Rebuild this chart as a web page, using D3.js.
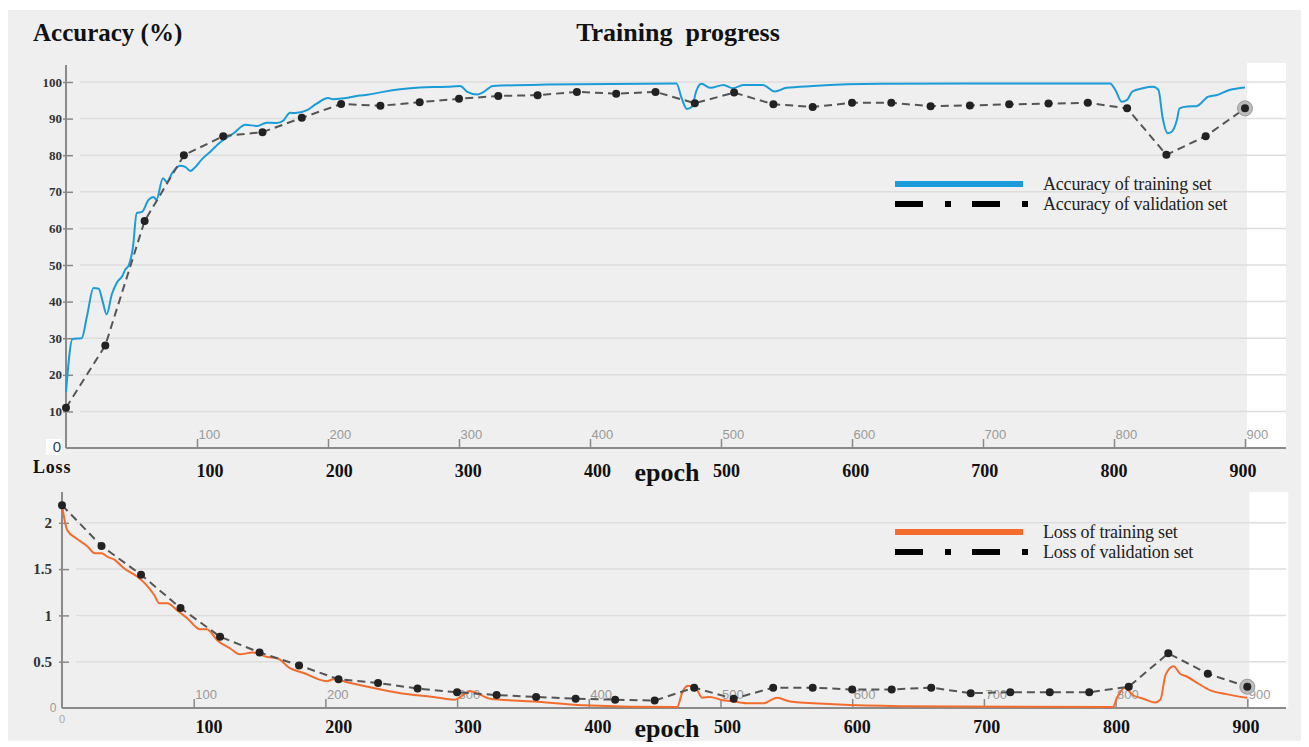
<!DOCTYPE html>
<html>
<head>
<meta charset="utf-8">
<script src="https://cdn.jsdelivr.net/npm/d3@7"></script>
<style>
  body { margin: 0; background: #fff; }
  text { font-family: "Liberation Serif", "Times New Roman", serif; }
</style>
</head>
<body>
<svg id="chart" width="1309" height="747"></svg>
<script>
// epochs where the tick labels sit
var epochTicks = [100, 200, 300, 400, 500, 600, 700, 800, 900];
var accTicks = [10, 20, 30, 40, 50, 60, 70, 80, 90, 100];
var lossTicks = [0.5, 1, 1.5, 2];

// validation is logged every 30 epochs
var valEpochs = [0, 30, 60, 90, 120, 150, 180, 210, 240, 270, 300, 330, 360, 390, 420,
                 450, 480, 510, 540, 570, 600, 630, 660, 690, 720, 750, 780, 810, 840, 870, 900];
var valAcc = [11, 28, 62, 80, 85.2, 86.3, 90.2, 94.0, 93.5, 94.5, 95.4, 96.2, 96.4, 97.3, 96.8,
              97.3, 94.2, 97.1, 93.9, 93.2, 94.3, 94.3, 93.4, 93.6, 93.9, 94.1, 94.3, 92.8, 80.1, 85.2, 92.8];
var valLoss = [2.19, 1.75, 1.44, 1.08, 0.77, 0.60, 0.46, 0.31, 0.27, 0.21, 0.17, 0.14, 0.12, 0.10, 0.09,
               0.08, 0.22, 0.10, 0.22, 0.22, 0.20, 0.20, 0.22, 0.16, 0.17, 0.17, 0.17, 0.23, 0.59, 0.37, 0.23];

// training curves (smoothed)
var trainAccEpochs = [0, 5, 12, 16, 21, 25, 28, 31, 35, 39, 43, 45, 48, 51, 54, 58, 63, 67, 69, 74, 77, 81,
                      87, 91, 95, 98, 104, 110, 118, 128, 137, 146, 153, 161, 166, 171, 175, 184, 191, 200,
                      204, 214, 224, 230, 242, 255, 270, 291, 301, 306, 314, 318, 326, 367, 466, 470, 474,
                      478, 481, 485, 492, 502, 509, 517, 532, 541, 550, 570, 621, 797, 801, 806, 810, 814,
                      822, 830, 834, 837, 841, 844, 848, 850, 856, 863, 872, 878, 888, 900];
var trainAcc = [15.3, 29.8, 30, 36, 43.7, 43.5, 40, 36.5, 42, 45.3, 47, 48.6, 50, 54.6, 64.2, 64.5, 67.8,
                68.6, 67.8, 73.7, 72.7, 75.1, 77.1, 76.8, 75.7, 76.5, 79, 80.9, 83.6, 86, 88.3, 88, 88.9,
                88.8, 89.5, 91.6, 91.5, 92.3, 94, 95.6, 95.3, 95.6, 96.3, 96.5, 97.3, 98, 98.5, 98.7, 98.9,
                97.4, 96.6, 97.1, 98.9, 99.3, 99.6, 95.5, 92.6, 93.3, 97.4, 99.5, 98.4, 99.2, 98.3, 99.2,
                99.2, 97.4, 98.4, 98.9, 99.5, 99.6, 97.8, 94.6, 95.1, 97.4, 98.3, 98.7, 97.8, 90.5, 86,
                86.4, 89.6, 92.8, 93.3, 93.4, 96, 96.4, 97.8, 98.5];

var trainLossEpochs = [0, 4, 11, 19, 25, 30, 35, 40, 47, 57, 64, 70, 74, 80, 87, 95, 105, 110, 118, 128,
                       135, 145, 156, 163, 173, 183, 201, 206, 219, 232, 257, 282, 298, 310, 315, 325, 358,
                       396, 467, 471, 475, 481, 486, 492, 500, 510, 522, 532, 543, 553, 586, 636, 798, 801,
                       807, 813, 821, 830, 834, 838, 844, 849, 854, 862, 872, 884, 900];
var trainLoss = [2.19, 1.92, 1.83, 1.75, 1.67, 1.67, 1.63, 1.60, 1.51, 1.42, 1.33, 1.22, 1.13, 1.13, 1.06,
                 0.97, 0.85, 0.85, 0.73, 0.64, 0.58, 0.60, 0.55, 0.54, 0.43, 0.38, 0.29, 0.31, 0.27, 0.23,
                 0.16, 0.12, 0.09, 0.18, 0.16, 0.10, 0.07, 0.03, 0.01, 0.17, 0.24, 0.22, 0.11, 0.12, 0.09,
                 0.07, 0.05, 0.05, 0.11, 0.07, 0.04, 0.02, 0.01, 0.11, 0.22, 0.14, 0.10, 0.06, 0.09, 0.36,
                 0.45, 0.37, 0.34, 0.27, 0.19, 0.15, 0.11];

var blue = "#1b9bd8", orange = "#f36b2d", valColor = "#555";

var svg = d3.select("#chart");

// gray panel behind everything
svg.append("rect").attr("x", 8).attr("y", 10).attr("width", 1293).attr("height", 731)
    .attr("fill", "#efefef");

function zip(a, b) {
    return a.map(function(d, i) { return [d, b[i]]; });
}

function drawPanel(opt) {
    var x = d3.scaleLinear().domain([0, 900]).range([opt.x0, opt.x0 + 900 * opt.kx]);
    var y = d3.scaleLinear().domain([0, opt.ymax]).range([opt.yBottom, opt.yBottom - opt.ymax * opt.ky]);
    var g = svg.append("g");

    // white strip on the right side of the plot
    g.append("rect").attr("x", x(900) + 2).attr("y", opt.whiteTop)
        .attr("width", 39).attr("height", opt.yBottom - opt.whiteTop).attr("fill", "#fff");

    // horizontal grid
    g.selectAll(".grid").data(opt.yTicks).enter().append("line")
        .attr("x1", opt.x0 + 14).attr("x2", 1286)
        .attr("y1", function(d) { return y(d); }).attr("y2", function(d) { return y(d); })
        .attr("stroke", "#dedede").attr("stroke-width", 1.5);

    // y axis
    var yAxis = g.append("g").attr("transform", "translate(" + opt.x0 + ",0)")
        .call(d3.axisLeft(y).tickValues(opt.yTicks).tickSizeInner(-10).tickSizeOuter(0)
              .tickPadding(opt.yPad).tickFormat(function(d) { return d; }));
    yAxis.select(".domain").remove();
    yAxis.selectAll(".tick line").attr("stroke", "#888").attr("stroke-width", 1.5)
        .attr("transform", "translate(-3,0)");
    yAxis.selectAll(".tick text").attr("fill", "#333").attr("font-weight", "bold")
        .attr("font-size", opt.yFont).style("font-family", "'Liberation Serif', serif");
    g.append("line").attr("x1", opt.x0).attr("x2", opt.x0)
        .attr("y1", opt.yTop).attr("y2", opt.yBottom)
        .attr("stroke", "#8a8a8a").attr("stroke-width", 2);

    // x axis, MATLAB style: small gray labels to the right of upward ticks
    var xAxis = g.append("g").attr("transform", "translate(0," + opt.yBottom + ")")
        .call(d3.axisTop(x).tickValues(epochTicks).tickSizeInner(9).tickSizeOuter(0).tickPadding(1));
    xAxis.select(".domain").remove();
    xAxis.selectAll(".tick line").attr("stroke", "#888").attr("stroke-width", 1.5);
    xAxis.selectAll(".tick text").attr("text-anchor", "start").attr("x", 1).attr("dy", "0.1em")
        .attr("fill", "#999").attr("font-size", 13).style("font-family", "'Liberation Sans', Arial, sans-serif");
    g.append("line").attr("x1", opt.x0).attr("x2", 1286)
        .attr("y1", opt.yBottom).attr("y2", opt.yBottom)
        .attr("stroke", "#8a8a8a").attr("stroke-width", 2);

    // big bold epoch labels under the axis
    var xb = d3.scaleLinear().domain([100, 900]).range(opt.boldRange);
    g.selectAll(".blab").data(epochTicks).enter().append("text")
        .attr("x", function(d) { return xb(d); }).attr("y", opt.boldY)
        .attr("text-anchor", "middle").attr("font-weight", "bold").attr("font-size", 18)
        .attr("fill", "#111").text(function(d) { return d; });
    g.append("text").attr("x", 667).attr("y", opt.boldY + 4).attr("text-anchor", "middle")
        .attr("font-weight", "bold").attr("font-size", 26).attr("fill", "#111").text("epoch");

    // training curve
    var line = d3.line().x(function(d) { return x(d[0]); }).y(function(d) { return y(d[1]); });
    g.append("path").datum(opt.train)
        .attr("d", line.curve(d3.curveMonotoneX))
        .attr("fill", "none").attr("stroke", opt.color).attr("stroke-width", 2);

    // validation curve
    var vline = d3.line().x(function(d) { return x(d[0]); }).y(function(d) { return y(d[1]); });
    g.append("path").datum(opt.val).attr("d", vline)
        .attr("fill", "none").attr("stroke", valColor).attr("stroke-width", 2)
        .attr("stroke-dasharray", "8,5");
    var last = opt.val[opt.val.length - 1];
    g.append("circle").attr("cx", x(last[0])).attr("cy", y(last[1])).attr("r", 7.5)
        .attr("fill", "#bbb").attr("stroke", "#999").attr("stroke-width", 1);
    g.selectAll(".vdot").data(opt.val).enter().append("circle")
        .attr("cx", function(d) { return x(d[0]); }).attr("cy", function(d) { return y(d[1]); })
        .attr("r", 4).attr("fill", "#222");

    // legend
    var lg = g.append("g");
    lg.append("line").attr("x1", 895).attr("x2", 1023).attr("y1", opt.legendY).attr("y2", opt.legendY)
        .attr("stroke", opt.color).attr("stroke-width", 6);
    lg.append("line").attr("x1", 895).attr("x2", 1028).attr("y1", opt.legendY + 20).attr("y2", opt.legendY + 20)
        .attr("stroke", "#000").attr("stroke-width", 6).attr("stroke-dasharray", "28,22,6,21");
    lg.selectAll("text").data(opt.legend).enter().append("text")
        .attr("x", 1043).attr("y", function(d, i) { return opt.legendY + 6 + i * 20; })
        .attr("font-size", 18).attr("letter-spacing", -0.2).attr("fill", "#222")
        .text(function(d) { return d; });

    return { x: x, y: y, g: g };
}

var top = drawPanel({
    x0: 66, kx: 1.31, yBottom: 448, ky: 3.66, ymax: 100, yTop: 65, whiteTop: 63,
    yTicks: accTicks, yPad: 4, yFont: 13,
    boldRange: [210, 1243], boldY: 477,
    train: zip(trainAccEpochs, trainAcc), val: zip(valEpochs, valAcc), color: blue,
    legendY: 184, legend: ["Accuracy of training set", "Accuracy of validation set"]
});

var bottom = drawPanel({
    x0: 62, kx: 1.317, yBottom: 708, ky: 92.6, ymax: 2.2, yTop: 492, whiteTop: 492,
    yTicks: lossTicks, yPad: 10, yFont: 15,
    boldRange: [209, 1246], boldY: 733,
    train: zip(trainLossEpochs, trainLoss), val: zip(valEpochs, valLoss), color: orange,
    legendY: 532, legend: ["Loss of training set", "Loss of validation set"]
});

// zero labels
svg.append("rect").attr("x", 46).attr("y", 439).attr("width", 16).attr("height", 16).attr("fill", "#fff");
svg.append("text").attr("x", 57).attr("y", 452).attr("text-anchor", "middle")
    .attr("font-size", 15).attr("fill", "#2b3d5a").style("font-family", "'Liberation Sans', sans-serif").text("0");
svg.append("text").attr("x", 53).attr("y", 712).attr("text-anchor", "middle")
    .attr("font-size", 12).attr("fill", "#999").style("font-family", "'Liberation Sans', sans-serif").text("0");
svg.append("text").attr("x", 62).attr("y", 723).attr("text-anchor", "middle")
    .attr("font-size", 11).attr("fill", "#aaa").style("font-family", "'Liberation Sans', sans-serif").text("0");

// titles
svg.append("text").attr("x", 33).attr("y", 41).attr("font-size", 25).attr("font-weight", "bold")
    .attr("fill", "#111").text("Accuracy (%)");
svg.append("text").attr("x", 678).attr("y", 41).attr("text-anchor", "middle").attr("font-size", 26)
    .attr("font-weight", "bold").attr("fill", "#111").style("white-space", "pre").text("Training  progress");
svg.append("text").attr("x", 33).attr("y", 473).attr("font-size", 18).attr("font-weight", "bold")
    .attr("letter-spacing", 0.8).attr("fill", "#111").text("Loss");
</script>
</body>
</html>
